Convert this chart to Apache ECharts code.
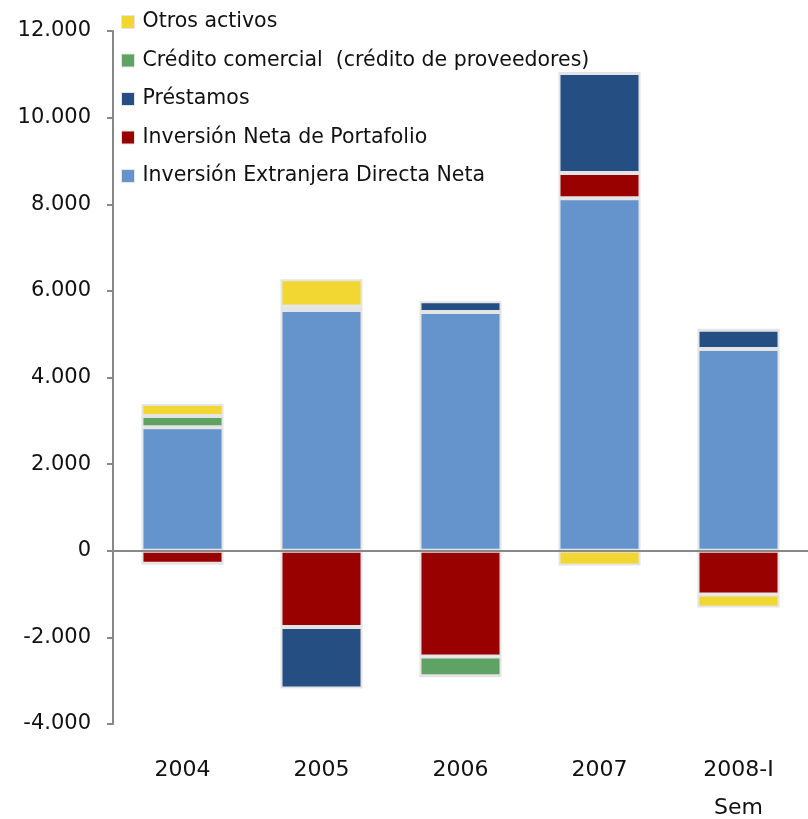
<!DOCTYPE html>
<html><head><meta charset="utf-8">
<script src="https://cdn.jsdelivr.net/npm/echarts@6/dist/echarts.min.js"></script>
<style>html,body{margin:0;padding:0;background:#fff}#c{width:808px;height:819px}</style>
</head><body><div id="c"></div>
<script>
const categories = ['2004', '2005', '2006', '2007', '2008-I\nSem'];
const iedNeta = [2850, 5560, 5510, 8140, 4660];
const portafolio = [-300, -1760, -2440, 580, -1010];
const prestamos = [0, -1420, 250, 2310, 440];
const credito = [260, 80, -460, 0, 0];
const otros = [280, 630, 0, -340, -300];
const yTicks = [-4000, 12000, 2000];

const font = '"DejaVu Sans", Verdana, sans-serif';
const border = {borderColor: '#e4e4e4', borderWidth: 2};
function s(name, data, color) {
  return {name, type: 'bar', stack: 'a', data, barWidth: 82,
    itemStyle: Object.assign({color}, border)};
}
const series = [
  s('Inversión Extranjera Directa Neta', iedNeta, '#6594CC'),
  s('Inversión Neta de Portafolio', portafolio, '#990000'),
  s('Préstamos', prestamos, '#254E82'),
  s('Crédito comercial  (crédito de proveedores)', credito, '#5EA364'),
  s('Otros activos', otros, '#F2D732')
];
series[0].markLine = {
  silent: true, symbol: 'none', label: {show: false},
  lineStyle: {color: '#888', width: 2, type: 'solid'},
  data: [{yAxis: 0}]
};
const chart = echarts.init(document.getElementById('c'));
chart.setOption({
  animation: false,
  grid: {left: 113, right: 0, top: 31, bottom: 95, containLabel: false, outerBoundsMode: 'none'},
  legend: {
    left: 116, top: 6, orient: 'vertical', itemGap: 16.5,
    itemWidth: 13, itemHeight: 13, icon: 'rect',
    itemStyle: {borderColor: '#e4e4e4', borderWidth: 1},
    textStyle: {fontFamily: font, fontSize: 20.5, lineHeight: 22, color: '#111', padding: [0,0,0,3]},
    data: ['Otros activos', 'Crédito comercial  (crédito de proveedores)', 'Préstamos',
           'Inversión Neta de Portafolio', 'Inversión Extranjera Directa Neta']
  },
  xAxis: {
    type: 'category', data: categories,
    axisLine: {show: false, onZero: false},
    axisTick: {show: false},
    axisLabel: {fontFamily: font, fontSize: 22, color: '#111', margin: 27, lineHeight: 38, interval: 0}
  },
  yAxis: {
    type: 'value', min: yTicks[0], max: yTicks[1], interval: yTicks[2],
    splitLine: {show: false},
    axisLine: {show: true, lineStyle: {color: '#888', width: 2}},
    axisTick: {show: true, length: 6, lineStyle: {color: '#888', width: 2}},
    axisLabel: {fontFamily: font, fontSize: 21, color: '#111', margin: 22,
      formatter: v => String(v).replace(/(\d)(?=(\d{3})+$)/, '$1.')}
  },
  series
});
</script></body></html>
